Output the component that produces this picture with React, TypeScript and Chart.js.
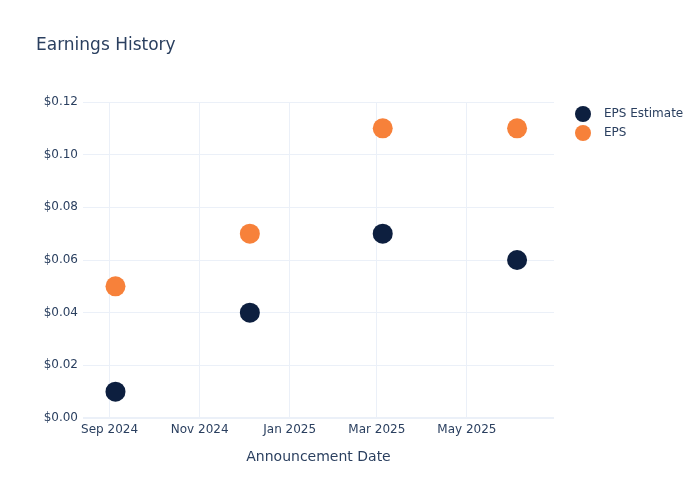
import React, { useEffect, useRef } from "react";
import { Chart, registerables } from "chart.js";

Chart.register(...registerables);

const announcementDates = ["2024-09-05", "2024-12-05", "2025-03-05", "2025-06-04"];
const epsEstimate = [0.01, 0.04, 0.07, 0.06];
const epsActual = [0.05, 0.07, 0.11, 0.11];
const xTickDates = ["2024-09-01", "2024-11-01", "2025-01-01", "2025-03-01", "2025-05-01"];
const xRange = ["2024-08-14", "2025-06-29"];
const yTicks = { min: 0, max: 0.12, step: 0.02 };

const MONTHS = ["Jan", "Feb", "Mar", "Apr", "May", "Jun", "Jul", "Aug", "Sep", "Oct", "Nov", "Dec"];
const ts = (s: string) => {
  const [y, m, d] = s.split("-").map(Number);
  return Date.UTC(y, m - 1, d);
};
const fmtMonth = (v: number) => {
  const d = new Date(v);
  return `${MONTHS[d.getUTCMonth()]} ${d.getUTCFullYear()}`;
};

const NAVY = "#0d1f3f";
const ORANGE = "#f7813a";
const TEXT = "#2a3f5f";
const GRID = "#ebf0f8";
const FONT = "'DejaVu Sans', Verdana, sans-serif";

export default function App() {
  const ref = useRef<HTMLCanvasElement | null>(null);
  useEffect(() => {
    document.body.style.margin = "0";
    if (!ref.current) return;
    const legendPlugin = {
      id: "customLegend",
      afterDraw(chart: any) {
        const ctx = chart.ctx;
        const items = [
          { label: "EPS Estimate", color: NAVY, y: 114 },
          { label: "EPS", color: ORANGE, y: 133 },
        ];
        ctx.save();
        ctx.font = `12px ${FONT}`;
        ctx.textBaseline = "middle";
        ctx.textAlign = "left";
        for (const it of items) {
          ctx.beginPath();
          ctx.arc(583, it.y, 8, 0, Math.PI * 2);
          ctx.fillStyle = it.color;
          ctx.fill();
          ctx.fillStyle = TEXT;
          ctx.fillText(it.label, 604, it.y);
        }
        ctx.restore();
      },
    };
    const chart = new Chart(ref.current, {
      type: "scatter",
      data: {
        datasets: [
          {
            label: "EPS Estimate",
            data: announcementDates.map((d, i) => ({ x: ts(d), y: epsEstimate[i] })),
            backgroundColor: NAVY,
            borderColor: NAVY,
            pointRadius: 10,
            pointHoverRadius: 10,
            borderWidth: 0,
          },
          {
            label: "EPS",
            data: announcementDates.map((d, i) => ({ x: ts(d), y: epsActual[i] })),
            backgroundColor: ORANGE,
            borderColor: ORANGE,
            pointRadius: 10,
            pointHoverRadius: 10,
            borderWidth: 0,
          },
        ],
      },
      options: {
        responsive: false,
        animation: false,
        layout: { padding: { left: 36, right: 146, top: 0, bottom: 0 } },
        plugins: {
          legend: { display: false },
          tooltip: { enabled: false },
          title: {
            display: true,
            text: "Earnings History",
            align: "start",
            color: TEXT,
            font: { family: FONT, size: 17, weight: "normal" },
            padding: { top: 35.8, bottom: 45.8 },
          },
        },
        scales: {
          x: {
            type: "linear",
            min: ts(xRange[0]),
            max: ts(xRange[1]),
            afterBuildTicks: (scale: any) => {
              scale.ticks = xTickDates.map((d) => ({ value: ts(d) }));
            },
            afterFit: (scale: any) => {
              scale.height = 82;
            },
            ticks: {
              callback: (v: any) => fmtMonth(Number(v)),
              color: TEXT,
              font: { family: FONT, size: 12 },
              padding: 5,
              maxRotation: 0,
              autoSkip: false,
            },
            grid: { color: GRID, lineWidth: 1, drawTicks: false },
            border: { display: false },
            title: {
              display: true,
              text: "Announcement Date",
              color: TEXT,
              font: { family: FONT, size: 14 },
              padding: { top: 0, bottom: 34.6 },
            },
          },
          y: {
            min: yTicks.min,
            max: yTicks.max,
            afterFit: (scale: any) => {
              scale.width = 47;
            },
            ticks: {
              stepSize: yTicks.step,
              callback: (v: any) => "$" + Number(v).toFixed(2),
              color: TEXT,
              font: { family: FONT, size: 12 },
              padding: 5,
            },
            grid: {
              color: GRID,
              lineWidth: (c: any) => (c.tick && Math.abs(c.tick.value) < 1e-9 ? 2 : 1),
              drawTicks: false,
            },
            border: { display: false },
          },
        },
      },
      plugins: [legendPlugin],
    } as any);
    return () => chart.destroy();
  }, []);
  return (
    <div style={{ width: 700, height: 500 }}>
      <canvas ref={ref} width={700} height={500} />
    </div>
  );
}
